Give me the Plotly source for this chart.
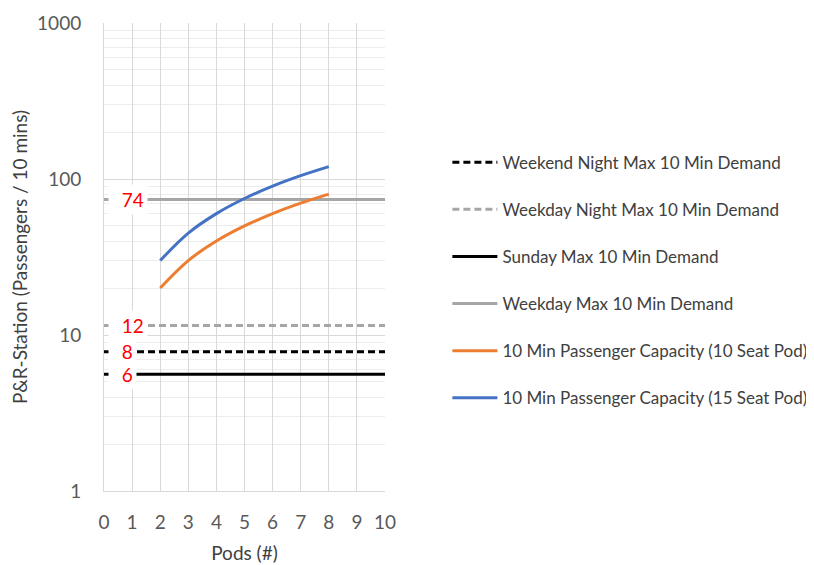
import math
import plotly.graph_objects as go

# ---- data ----
pods = [2, 3, 4, 5, 6, 7, 8]
cap_10_seat = [20, 30, 40, 50, 60, 70, 80]
cap_15_seat = [30, 45, 60, 75, 90, 105, 120]

demand_names = ["Weekend Night Max 10 Min Demand",
                "Weekday Night Max 10 Min Demand",
                "Sunday Max 10 Min Demand",
                "Weekday Max 10 Min Demand"]
demand_values = [7.8, 11.5, 5.6, 74]
demand_labels = ["8", "12", "6", "74"]
x_range = [0, 10]
x_ticks = [0, 1, 2, 3, 4, 5, 6, 7, 8, 9, 10]
y_ticks = [1, 10, 100, 1000]

demand_colors = ["#000000", "#A6A6A6", "#000000", "#A6A6A6"]
demand_dash = ["7px,4px", "7px,4px", "solid", "solid"]

FONT = "Lato"
fig = go.Figure()

for i, (name, v) in enumerate(zip(demand_names, demand_values)):
    fig.add_trace(go.Scatter(
        x=x_range, y=[v, v], mode="lines", name=name,
        legendgroup=f"g{i}",
        line=dict(color=demand_colors[i], width=3, dash=demand_dash[i]),
        hoverinfo="skip"))

fig.add_trace(go.Scatter(x=pods, y=cap_10_seat, mode="lines",
                         name="10 Min Passenger Capacity (10 Seat Pod)",
                         legendgroup="g4",
                         line=dict(color="#ED7D31", width=3, shape="spline")))
fig.add_trace(go.Scatter(x=pods, y=cap_15_seat, mode="lines",
                         name="10 Min Passenger Capacity (15 Seat Pod)",
                         legendgroup="g5",
                         line=dict(color="#4472C4", width=3, shape="spline")))

for v, lab in zip(demand_values, demand_labels):
    fig.add_annotation(x=0.14, y=math.log10(v), yref="y", xref="x",
                       text="\u00a0\u00a0" + lab,
                       showarrow=False, xanchor="left", yanchor="middle",
                       font=dict(family=FONT, size=19, color="#FF0000"),
                       bgcolor="white", borderpad=3)

fig.update_xaxes(range=x_range, tickvals=x_ticks, showgrid=True,
                 gridcolor="#D9D9D9", gridwidth=1, zeroline=False,
                 showline=True, linecolor="#D9D9D9", automargin=False,
                 ticks="outside", ticklen=14, tickcolor="rgba(0,0,0,0)",
                 tickfont=dict(family=FONT, size=19, color="#595959"),
                 title=dict(text="Pods (#)", standoff=14,
                            font=dict(family=FONT, size=19, color="#404040")))
fig.update_yaxes(type="log", range=[0, 3], tickvals=y_ticks,
                 showgrid=True, gridcolor="#D9D9D9", gridwidth=1,
                 zeroline=False, showline=True, linecolor="#D9D9D9",
                 automargin=False,
                 ticks="outside", ticklen=18, tickcolor="rgba(0,0,0,0)",
                 tickfont=dict(family=FONT, size=19, color="#595959"),
                 minor=dict(showgrid=True, gridcolor="#EDEDED", gridwidth=1,
                            tickvals=[a * b for b in [1, 10, 100] for a in range(2, 10)]),
                 title=dict(text="P&R-Station (Passengers / 10 mins)", standoff=14,
                            font=dict(family=FONT, size=19, color="#404040")))

# page body has an 8px default margin, so the figure is sized to fit the window
fig.update_layout(
    width=806, height=557,
    margin=dict(l=96, r=429, t=15, b=74, autoexpand=False),
    paper_bgcolor="white", plot_bgcolor="white",
    showlegend=True,
    legend=dict(x=1.222, y=0.74, xanchor="left", yanchor="top",
                tracegroupgap=22, itemwidth=45,
                font=dict(family=FONT, size=17, color="#404040"),
                bgcolor="rgba(0,0,0,0)"),
)

fig.write_html("out.html")
